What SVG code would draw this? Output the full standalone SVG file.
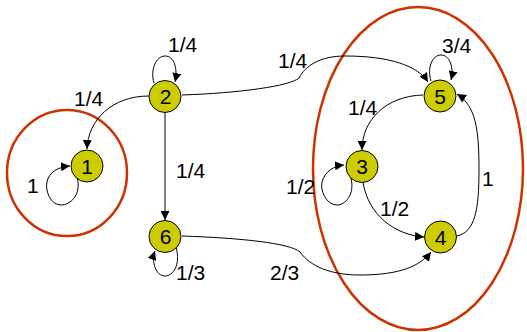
<svg xmlns="http://www.w3.org/2000/svg" width="527" height="332" viewBox="0 0 527 332">
<style>
.grp{fill:none;stroke:#CC3300;stroke-width:2.5}
.node circle{fill:#CCCC00;stroke:#000;stroke-width:1}
.node text{font-family:"Liberation Sans",Arial,sans-serif;font-size:21px;text-anchor:middle;fill:#000}
.edge{fill:none;stroke:#000;stroke-width:1;marker-end:url(#arr)}
.lbl{font-family:"Liberation Sans",Arial,sans-serif;font-size:21px;fill:#000}
</style>
<defs>
<marker id="arr" viewBox="0 0 10 10" refX="10" refY="5" markerWidth="9" markerHeight="9" markerUnits="userSpaceOnUse" orient="auto">
<path d="M0,0 L10,5 L0,10 z" fill="#000"/>
</marker>
</defs>
<rect width="527" height="332" fill="#fff"/>
<g id="groups">
<ellipse class="grp" cx="67" cy="173" rx="60" ry="63"/>
<ellipse class="grp" cx="418" cy="168.5" rx="105" ry="161.5"/>
</g>
<g id="connectors">
<path class="edge" d="M149,96 C112,96 88,120 87,149"/>
<path class="edge" d="M154,83 C150,70 156,56 165,56 C174,56 178,68 175,82"/>
<path class="edge" d="M165,113 L165,220"/>
<path class="edge" d="M77,177 C82,195 70,205 61,205 C50,205 45,190 47,182 C49,172 58,167 70,166"/>
<path class="edge" d="M176,247 C181,265 173,276 165,276 C156,276 151,262 155,251"/>
<path class="edge" d="M182,95 C240,93 290,86 299,78 C305,66 320,56 345,56 C390,56 418,66 428,82"/>
<path class="edge" d="M431,81 C427,68 432,55 441,55 C450,55 454,68 451,80"/>
<path class="edge" d="M423,95 C386,96 362,120 362,150"/>
<path class="edge" d="M351,178 C355,195 345,205 337,205 C326,205 320,190 322,182 C325,171 334,166 344,165"/>
<path class="edge" d="M363,182 C368,215 395,235 424,237"/>
<path class="edge" d="M457,236 C475,232 479,210 479,170 C479,130 476,106 457,94"/>
<path class="edge" d="M182,236 C240,238 290,243 300,252 C310,266 330,275 360,275 C400,275 420,266 431,252"/>
</g>
<g id="labels">
<text class="lbl" x="168" y="52">1/4</text>
<text class="lbl" x="74" y="106">1/4</text>
<text class="lbl" x="278" y="68">1/4</text>
<text class="lbl" x="176" y="178">1/4</text>
<text class="lbl" x="27" y="193">1</text>
<text class="lbl" x="176" y="280">1/3</text>
<text class="lbl" x="270" y="280">2/3</text>
<text class="lbl" x="442" y="53">3/4</text>
<text class="lbl" x="348" y="115">1/4</text>
<text class="lbl" x="286" y="194">1/2</text>
<text class="lbl" x="380" y="216">1/2</text>
<text class="lbl" x="482" y="186">1</text>
</g>
<g id="n1" class="node"><circle cx="87" cy="166" r="16"/><text x="87" y="173.5">1</text></g>
<g id="n2" class="node"><circle cx="165" cy="96.5" r="16"/><text x="165.5" y="104">2</text></g>
<g id="n3" class="node"><circle cx="362" cy="166.5" r="16"/><text x="362" y="174">3</text></g>
<g id="n4" class="node"><circle cx="440.5" cy="237" r="16"/><text x="440.5" y="244.5">4</text></g>
<g id="n5" class="node"><circle cx="440" cy="96" r="16"/><text x="440" y="103.5">5</text></g>
<g id="n6" class="node"><circle cx="165" cy="236.5" r="16"/><text x="165.5" y="244">6</text></g>
</svg>
